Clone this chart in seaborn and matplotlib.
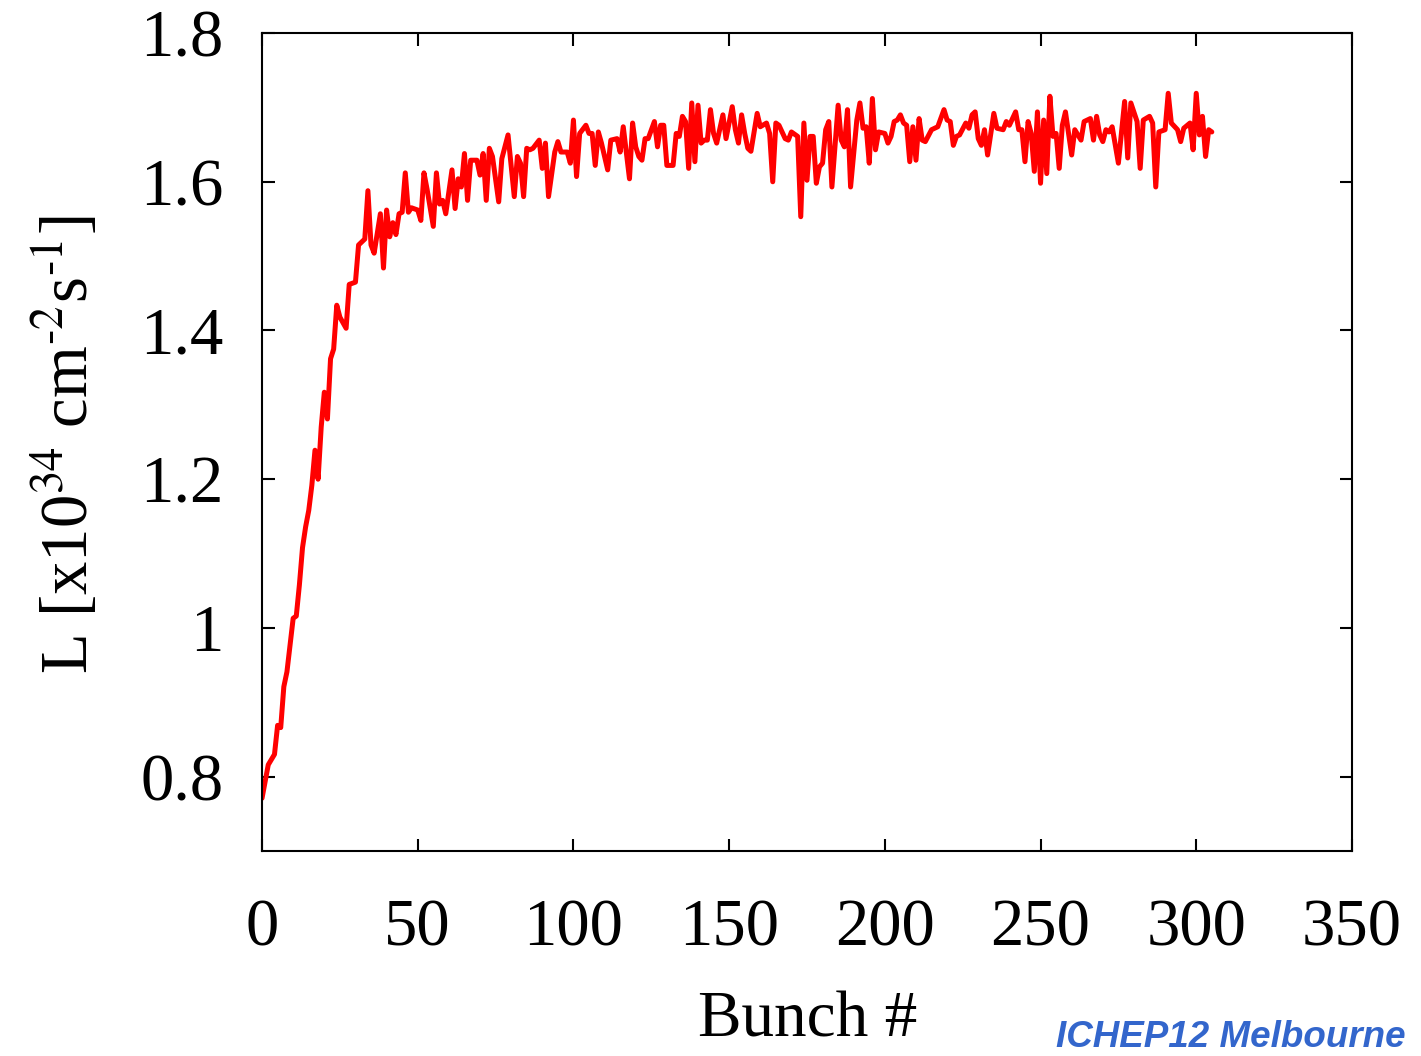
import matplotlib
matplotlib.use("Agg")
import matplotlib.pyplot as plt
import seaborn as sns
import pandas as pd

# Luminosity per bunch
bunch = [0, 2, 4, 5, 6, 7, 8, 10, 11, 12, 13, 14, 15, 16, 17, 18, 19, 20, 21, 22,
         23, 24, 25, 27, 28, 30, 31, 33, 34, 35, 36, 38, 39, 40, 41, 42, 43, 44, 45, 46,
         47, 48, 50, 51, 52, 53, 55, 56, 57, 58, 59, 61, 62, 63, 64, 65, 66, 67, 69, 70,
         71, 72, 73, 74, 76, 77, 79, 81, 82, 83, 84, 85, 86, 87, 89, 90, 91, 92, 94, 95,
         96, 98, 99, 100, 101, 102, 104, 105, 106, 107, 108, 109, 111, 112, 114, 115, 116, 118, 119, 120,
         121, 122, 123, 124, 126, 127, 128, 129, 130, 132, 133, 134, 135, 136, 137, 138, 139, 140, 141, 142,
         143, 144, 145, 146, 148, 149, 151, 152, 153, 154, 155, 156, 157, 159, 160, 162, 163, 164, 165, 166,
         168, 169, 170, 172, 173, 174, 175, 176, 177, 178, 179, 180, 181, 182, 183, 185, 186, 187, 188, 189,
         191, 192, 193, 194, 195, 196, 197, 198, 200, 201, 202, 203, 204, 205, 206, 207, 208, 209, 210, 211,
         212, 213, 215, 217, 219, 220, 221, 222, 223, 224, 226, 227, 228, 229, 230, 231, 232, 233, 235, 236,
         238, 239, 240, 242, 243, 244, 245, 246, 247, 248, 249, 250, 251, 252, 253, 254, 255, 256, 257, 258,
         260, 261, 263, 264, 266, 267, 268, 269, 270, 271, 272, 273, 275, 277, 278, 279, 281, 282, 283, 285,
         286, 287, 288, 290, 291, 292, 294, 295, 296, 298, 299, 300, 301, 302, 303, 304, 305]

lumi = [0.771, 0.816, 0.830, 0.869, 0.866, 0.921, 0.941, 1.013, 1.016, 1.058,
        1.108, 1.136, 1.158, 1.192, 1.239, 1.200, 1.270, 1.317, 1.281, 1.362,
        1.375, 1.434, 1.418, 1.403, 1.462, 1.465, 1.515, 1.523, 1.588, 1.515,
        1.504, 1.557, 1.484, 1.562, 1.526, 1.545, 1.529, 1.557, 1.559, 1.612,
        1.559, 1.565, 1.562, 1.548, 1.612, 1.590, 1.540, 1.612, 1.570, 1.575,
        1.557, 1.616, 1.564, 1.604, 1.593, 1.638, 1.575, 1.629, 1.629, 1.609,
        1.638, 1.575, 1.645, 1.634, 1.573, 1.631, 1.663, 1.580, 1.634, 1.625,
        1.580, 1.645, 1.643, 1.645, 1.656, 1.618, 1.652, 1.580, 1.640, 1.654,
        1.640, 1.640, 1.625, 1.683, 1.607, 1.665, 1.676, 1.665, 1.665, 1.622,
        1.667, 1.652, 1.616, 1.656, 1.658, 1.640, 1.674, 1.604, 1.679, 1.647,
        1.634, 1.629, 1.658, 1.658, 1.681, 1.647, 1.676, 1.676, 1.622, 1.622,
        1.665, 1.661, 1.688, 1.681, 1.618, 1.706, 1.627, 1.703, 1.652, 1.656,
        1.656, 1.697, 1.665, 1.652, 1.690, 1.658, 1.701, 1.670, 1.652, 1.690,
        1.665, 1.645, 1.641, 1.692, 1.674, 1.679, 1.665, 1.600, 1.679, 1.676,
        1.658, 1.656, 1.667, 1.661, 1.553, 1.679, 1.602, 1.661, 1.661, 1.598,
        1.620, 1.625, 1.670, 1.681, 1.593, 1.703, 1.656, 1.647, 1.697, 1.593,
        1.683, 1.706, 1.672, 1.674, 1.625, 1.712, 1.643, 1.667, 1.665, 1.652,
        1.661, 1.681, 1.683, 1.690, 1.679, 1.676, 1.627, 1.674, 1.629, 1.685,
        1.656, 1.654, 1.670, 1.674, 1.697, 1.683, 1.681, 1.649, 1.661, 1.663,
        1.679, 1.672, 1.690, 1.694, 1.658, 1.649, 1.670, 1.636, 1.692, 1.672,
        1.670, 1.681, 1.676, 1.694, 1.670, 1.670, 1.627, 1.681, 1.665, 1.614,
        1.694, 1.598, 1.683, 1.611, 1.715, 1.661, 1.665, 1.618, 1.676, 1.694,
        1.636, 1.670, 1.656, 1.681, 1.685, 1.656, 1.688, 1.663, 1.654, 1.670,
        1.667, 1.674, 1.625, 1.708, 1.632, 1.706, 1.681, 1.618, 1.683, 1.688,
        1.679, 1.593, 1.667, 1.670, 1.719, 1.679, 1.670, 1.654, 1.672, 1.679,
        1.643, 1.719, 1.663, 1.688, 1.634, 1.670, 1.667]

xticks = [0, 50, 100, 150, 200, 250, 300, 350]
yticks = [0.8, 1.0, 1.2, 1.4, 1.6, 1.8]
ytick_labels = ["0.8", "1", "1.2", "1.4", "1.6", "1.8"]

df = pd.DataFrame({"bunch": bunch, "lumi": lumi})

sns.set_style("ticks")
plt.rcParams["font.family"] = ["Liberation Serif", "DejaVu Serif"]
plt.rcParams["mathtext.fontset"] = "stix"
plt.rcParams["text.color"] = "black"

fig = plt.figure(figsize=(14.21, 10.56), dpi=100)
ax = fig.add_axes([0.1844, 0.1941, 0.767, 0.7746])

sns.lineplot(data=df, x="bunch", y="lumi", color="#ff0000", linewidth=3.6, ax=ax)

ax.set_xlim(0, 350)
ax.set_ylim(0.7, 1.8)
ax.set_xticks(xticks)
ax.set_xticklabels([str(t) for t in xticks])
ax.set_yticks(yticks)
ax.set_yticklabels(ytick_labels)
ax.tick_params(direction="in", length=9, width=1.5, top=True, right=True,
               labelsize=48, colors="black")
ax.tick_params(axis="x", pad=34)
ax.tick_params(axis="y", pad=28)
for s in ax.spines.values():
    s.set_linewidth(1.5)
    s.set_color("black")
ax.set_xlabel("")
ax.set_ylabel("")

fig.text(0.046, 0.579, r"L [x10$^{34}$ cm$^{\text{-2}}$s$^{\text{-1}}$]", rotation=90,
         ha="center", va="center", fontsize=48, color="black")
fig.text(0.5686, 0.062, "Bunch #", ha="center", va="top", fontsize=47, color="black")
fig.text(0.743, 0.034, "ICHEP12 Melbourne", ha="left", va="top", fontsize=26.5,
         color="#3366cc", fontweight="bold", fontstyle="italic",
         family="Liberation Sans")

fig.savefig("out.png", dpi=100)
